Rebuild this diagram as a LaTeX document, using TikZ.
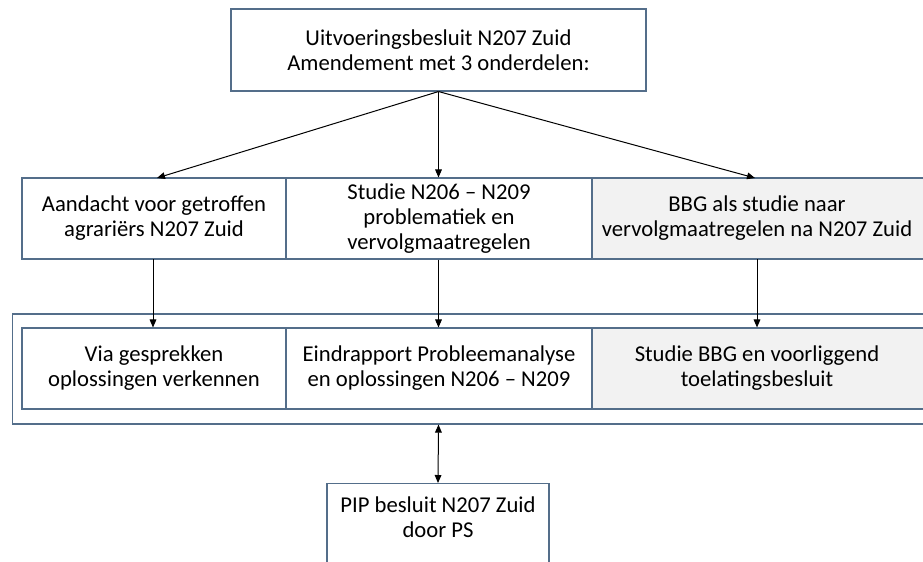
\documentclass[tikz,border=0pt]{standalone}
\usepackage{fontspec}
\setmainfont{Carlito}
\usetikzlibrary{arrows.meta}
\definecolor{edgeblue}{RGB}{84,110,138}
\definecolor{lightgray}{RGB}{242,242,242}
\begin{document}
\begin{tikzpicture}[x=0.75pt,y=-0.75pt,
  box/.style={draw=edgeblue, line width=0.8pt, inner sep=0pt, align=center,
    font=\fontsize{17}{18.75}\selectfont},
  grayfill/.style={fill=lightgray},
  txt/.style={inner sep=0pt, align=center, font=\fontsize{17}{18.75}\selectfont},
  arr/.style={draw=black, line width=0.75pt, -{Triangle[length=6pt,width=5pt]}},
  darr/.style={draw=black, line width=0.75pt, {Triangle[length=6pt,width=5pt]}-{Triangle[length=6pt,width=5pt]}}]
\useasboundingbox (0,0) rectangle (923,561);
\clip (0,0) rectangle (923,561);
\fill[white] (0,0) rectangle (923,561);

% top box
\node[box, minimum width=311.25pt, minimum height=61.5pt] (top) at (438.5,50)
  {Uitvoeringsbesluit N207 Zuid\\Amendement met 3 onderdelen:};

% row 1
\node[box, minimum width=198pt, minimum height=60.75pt] (r1a) at (154,218.5)
  {Aandacht voor getroffen\\agrariërs N207 Zuid};
\node[box, minimum width=229.5pt, minimum height=60.75pt] (r1b) at (439,218.5)
  {Studie N206 – N209\\problematiek en\\vervolgmaatregelen};
\node[box, grayfill, minimum width=249pt, minimum height=60.75pt, anchor=west] (r1c) at (592,218.5) {};
\node[txt] (r1ct) at (757,218.5) {BBG als studie naar\\vervolgmaatregelen na N207 Zuid};

% outer container
\node[box, minimum width=692.25pt, minimum height=82.5pt, anchor=west] (outer) at (12,369) {};

% row 2
\node[box, minimum width=198pt, minimum height=60.75pt] (r2a) at (154,368.5)
  {Via gesprekken\\oplossingen verkennen};
\node[box, minimum width=229.5pt, minimum height=60.75pt] (r2b) at (439,368.5)
  {Eindrapport Probleemanalyse\\en oplossingen N206 – N209};
\node[box, grayfill, minimum width=249pt, minimum height=60.75pt, anchor=west] (r2c) at (592,368.5) {};
\node[txt] (r2ct) at (757,368.5) {Studie BBG en voorliggend\\toelatingsbesluit};

% PIP box
\node[box, minimum width=166.5pt, minimum height=80pt, anchor=north] (pipbox) at (438,483) {};
\node[txt] (pip) at (438,517) {PIP besluit N207 Zuid\\door PS};

% connector end points
\coordinate (t1) at (157,178);
\coordinate (t3) at (755,178);

\draw[arr] (top.south) -- (t1);
\draw[arr] (top.south) -- (top.south |- r1b.north);
\draw[arr] (top.south) -- (t3);

\coordinate (d1) at (153,259);
\coordinate (d3) at (757,259);
\draw[arr] (d1) -- (d1 |- r2a.north);
\draw[arr] (top.south |- r1b.south) -- (top.south |- r2b.north);
\draw[arr] (d3) -- (d3 |- r2c.north);

\draw[darr] (top.south |- outer.south) -- (pipbox.north);
\end{tikzpicture}
\end{document}
